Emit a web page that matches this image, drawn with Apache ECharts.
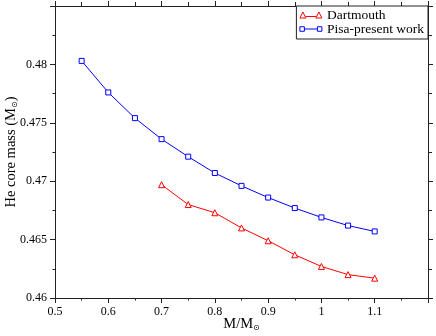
<!DOCTYPE html>
<html>
<head>
<meta charset="utf-8">
<script src="https://cdn.jsdelivr.net/npm/echarts@6/dist/echarts.min.js"></script>
<style>
  html, body { margin: 0; padding: 0; background: #fff; }
  #chart { width: 436px; height: 336px; }
</style>
</head>
<body>
<div id="chart"></div>
<script>
const pisaMass = [0.55, 0.6, 0.65, 0.7, 0.75, 0.8, 0.85, 0.9, 0.95, 1.0, 1.05, 1.1];
const pisaCore = [0.4803, 0.4776, 0.4754, 0.4736, 0.4721, 0.4707, 0.4696, 0.4686, 0.4677, 0.4669, 0.4662, 0.4657];
const dartMass = [0.7, 0.75, 0.8, 0.85, 0.9, 0.95, 1.0, 1.05, 1.1];
const dartCore = [0.4697, 0.4680, 0.4673, 0.4660, 0.4649, 0.4637, 0.4627, 0.4620, 0.4617];

const serif = 'Liberation Serif';
const frame = { show: true, lineStyle: { color: '#222', width: 1 } };

function pairs(xs, ys) {
    return xs.map(function(x, i) { return [x, ys[i]]; });
}

function tickText(max) {
    return function(v) {
        if (Math.abs(v - max) < 1e-9) return '';
        return String(Number(v.toFixed(4)));
    };
}

const chart = echarts.init(document.getElementById('chart'));

const triIcon = 'path://M0 6.5L3 0.5L6 6.5ZM6 5L16 5M16 6.5L19 0.5L22 6.5Z';
const sqIcon = 'path://M0 1.5L4.5 1.5L4.5 6L0 6ZM4.5 3.75L17.5 3.75M17.5 1.5L22 1.5L22 6L17.5 6Z';

const nameRich = {
    n: { fontFamily: serif, fontSize: 14.5, color: '#000' },
    s: { fontFamily: 'DejaVu Sans', fontSize: 8, color: '#000', verticalAlign: 'bottom', padding: [8, 0, 0, 0] }
};

chart.setOption({
    animation: false,
    grid: { left: 55, right: 8, top: 6, bottom: 38, outerBoundsMode: 'none', containLabel: false },
    legend: {
        orient: 'vertical',
        right: 8,
        top: 6,
        padding: [2, 4, 3, 3],
        itemWidth: 22,
        itemHeight: 7,
        itemGap: 0,
        borderColor: '#222',
        borderWidth: 1,
        backgroundColor: '#fff',
        textStyle: { fontFamily: serif, fontSize: 13.5, color: '#000', lineHeight: 14 },
        data: [
            { name: 'Dartmouth', icon: triIcon, itemStyle: { color: '#fff', borderColor: '#ff0000', borderWidth: 1 } },
            { name: 'Pisa-present work', icon: sqIcon, itemStyle: { color: '#fff', borderColor: '#0000ff', borderWidth: 1 } }
        ]
    },
    xAxis: [
        {
            type: 'value', min: 0.5, max: 1.2, interval: 0.1,
            axisLine: frame,
            axisTick: { show: true, length: 5, lineStyle: { color: '#222' } },
            minorTick: { show: true, splitNumber: 2, length: 2.5, lineStyle: { color: '#222' } },
            splitLine: { show: false },
            axisLabel: { fontFamily: serif, fontSize: 12, color: '#000', margin: 8, formatter: tickText(1.2) },
            name: '{n|M/M}{s|⊙}',
            nameLocation: 'middle',
            nameGap: 18,
            nameMoveOverlap: false,
            nameTextStyle: { rich: nameRich }
        },
        {
            type: 'value', position: 'top', min: 0.5, max: 1.2, interval: 0.1,
            axisLine: frame,
            axisTick: { show: true, length: 5, lineStyle: { color: '#222' } },
            minorTick: { show: true, splitNumber: 2, length: 4, lineStyle: { color: '#222' } },
            splitLine: { show: false },
            axisLabel: { show: false }
        }
    ],
    yAxis: [
        {
            type: 'value', min: 0.46, max: 0.485, interval: 0.005,
            axisLine: frame,
            axisTick: { show: true, length: 5, lineStyle: { color: '#222' } },
            minorTick: { show: true, splitNumber: 2, length: 2.5, lineStyle: { color: '#222' } },
            splitLine: { show: false },
            axisLabel: { fontFamily: serif, fontSize: 12, color: '#000', margin: 8, formatter: tickText(0.485) },
            name: '{n|He core mass (M}{s|⊙}{n|)}',
            nameLocation: 'middle',
            nameGap: 36,
            nameMoveOverlap: false,
            nameTextStyle: { rich: nameRich }
        },
        {
            type: 'value', position: 'right', min: 0.46, max: 0.485, interval: 0.005,
            axisLine: frame,
            axisTick: { show: true, length: 5, lineStyle: { color: '#222' } },
            minorTick: { show: true, splitNumber: 2, length: 4, lineStyle: { color: '#222' } },
            splitLine: { show: false },
            axisLabel: { show: false }
        }
    ],
    series: [
        {
            name: 'Dartmouth',
            type: 'line',
            data: pairs(dartMass, dartCore),
            symbol: 'triangle',
            symbolSize: 6,
            itemStyle: { color: '#fff', borderColor: '#ff0000', borderWidth: 1 },
            lineStyle: { width: 1, color: '#ff0000' }
        },
        {
            name: 'Pisa-present work',
            type: 'line',
            data: pairs(pisaMass, pisaCore),
            symbol: 'rect',
            symbolSize: 5,
            itemStyle: { color: '#fff', borderColor: '#0000ff', borderWidth: 1 },
            lineStyle: { width: 1, color: '#0000ff' }
        }
    ]
});
</script>
</body>
</html>
